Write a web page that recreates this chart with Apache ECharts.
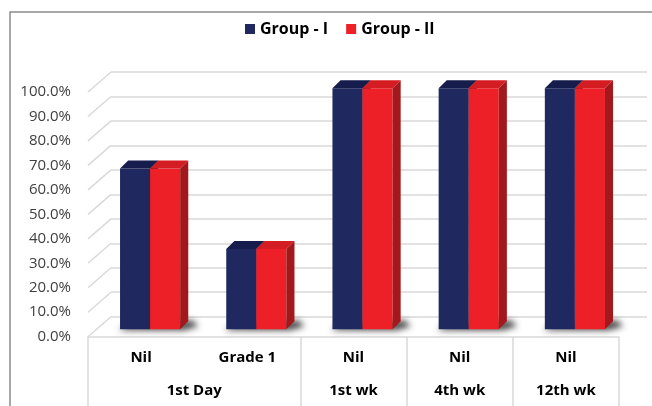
<!DOCTYPE html>
<html>
<head>
<meta charset="utf-8">
<style>
  html, body { margin: 0; padding: 0; background: #fff; }
  #chart { width: 652px; height: 406px; }
</style>
<script src="https://cdn.jsdelivr.net/npm/echarts@6/dist/echarts.min.js"></script>
</head>
<body>
<div id="chart"></div>
<script>
// Outcome categories per follow-up visit
const subCategories = ['Nil', 'Grade 1', 'Nil', 'Nil', 'Nil'];
const periods = ['1st Day', '1st wk', '4th wk', '12th wk'];
const periodSpans = [2, 1, 1, 1];

// Percentage of patients in each group
const groupI = [66.7, 33.3, 100, 100, 100];
const groupII = [66.7, 33.3, 100, 100, 100];

// Value-axis ticks
const yTickValues = [0, 10, 20, 30, 40, 50, 60, 70, 80, 90, 100];

const FONT = "'Open Sans', 'Liberation Sans', sans-serif";
const GRID_COLOR = '#d9d9d9';

// Oblique "3D" box layout: front plane, back wall and the plane the bars stand in
const FRONT = { left: 88, top: 92, width: 531, height: 244.7 };
const DEPTH = { dx: 23, dy: -20 };
const BACK = { left: FRONT.left + DEPTH.dx, top: FRONT.top + DEPTH.dy, width: 536, height: FRONT.height };
const BARS = { left: 97, top: 88.3, width: 531, height: 241 };
const BAR_FRACTION = 0.283;   // width of one bar relative to a category band
const BAR_DEPTH = 0.27;       // depth of a bar relative to its width
const SHADOW_SHIFT = 2000;    // shadow shapes are drawn off-canvas; only their blur is cast back

const COLORS = {
  'Group - I': { front: '#1f285f', top: '#161c4c', side: '#10153b' },
  'Group - II': { front: '#ee2027', top: '#d41d23', side: '#a2181d' }
};

// Period boundaries and centres on a 0..N scale for the lower header row
const boundaries = [0];
periodSpans.forEach(s => boundaries.push(boundaries[boundaries.length - 1] + s));
const centres = periods.map((p, i) => (boundaries[i] + boundaries[i + 1]) / 2);

function barRenderer(seriesName, side) {
  const c = COLORS[seriesName];
  return function (params, api) {
    const idx = api.value(0);
    const topPt = api.coord([idx, api.value(1)]);
    const basePt = api.coord([idx, 0]);
    const band = api.size([1, 0])[0];
    const w = band * BAR_FRACTION;
    const d = w * BAR_DEPTH;
    const x0 = side === 0 ? topPt[0] - w : topPt[0];
    const x1 = x0 + w;
    const yt = topPt[1], yb = basePt[1];
    return {
      type: 'group',
      children: [
        { type: 'rect', shape: { x: x0, y: yt, width: w, height: yb - yt },
          style: { fill: c.front } },
        { type: 'polygon', shape: { points: [[x0, yt], [x1, yt], [x1 + d, yt - d], [x0 + d, yt - d]] },
          style: { fill: c.top } },
        { type: 'polygon', shape: { points: [[x1, yt], [x1 + d, yt - d], [x1 + d, yb - d], [x1, yb]] },
          style: { fill: c.side } }
      ]
    };
  };
}

const chart = echarts.init(document.getElementById('chart'), null, { renderer: 'canvas' });

chart.setOption({
  animation: false,
  backgroundColor: '#ffffff',
  graphic: [{
    type: 'rect', silent: true, z: -10,
    shape: { x: 10, y: 12, width: 700, height: 500 },
    style: { fill: 'none', stroke: '#8c8c8c', lineWidth: 1.5 }
  }],
  legend: {
    data: ['Group - I', 'Group - II'],
    left: 245, top: 21, padding: 0,
    icon: 'rect', itemWidth: 10, itemHeight: 10, itemGap: 18,
    textStyle: { fontFamily: FONT, fontWeight: 'bold', fontSize: 16, color: '#000' },
    selectedMode: false
  },
  grid: [
    { left: FRONT.left, top: FRONT.top, width: FRONT.width, height: FRONT.height },
    { left: BACK.left, top: BACK.top, width: BACK.width, height: BACK.height },
    { left: BARS.left, top: BARS.top, width: BARS.width, height: BARS.height }
  ],
  xAxis: [
    { gridIndex: 0, type: 'category', position: 'bottom', data: subCategories,
      axisLine: { show: true, lineStyle: { color: GRID_COLOR, width: 1.5 } },
      axisTick: { show: false },
      axisLabel: { interval: 0, margin: 14, fontFamily: FONT, fontWeight: 'bold', fontSize: 15, color: '#000' } },
    { gridIndex: 0, type: 'value', position: 'bottom', min: 0, max: boundaries[boundaries.length - 1],
      axisLine: { show: false },
      splitLine: { show: false },
      axisTick: { show: true, customValues: boundaries, length: 80, inside: false,
        lineStyle: { color: GRID_COLOR, width: 1.5 } },
      axisLabel: { customValues: centres, margin: 47,
        formatter: v => { const i = centres.indexOf(v); return i >= 0 ? periods[i] : ''; },
        fontFamily: FONT, fontWeight: 'bold', fontSize: 15, color: '#000' } },
    { gridIndex: 1, type: 'value', show: false },
    { gridIndex: 2, type: 'category', data: subCategories, show: false }
  ],
  yAxis: [
    { gridIndex: 0, type: 'value', min: 0, max: 100, interval: 10,
      axisLine: { show: false }, axisTick: { show: false }, splitLine: { show: false },
      axisLabel: { margin: 17, formatter: v => v.toFixed(1) + '%',
        fontFamily: FONT, fontSize: 15, color: '#404040' } },
    { gridIndex: 1, type: 'value', min: 0, max: 100, interval: 10,
      axisLine: { show: false }, axisTick: { show: false }, axisLabel: { show: false },
      splitLine: { show: true, lineStyle: { color: GRID_COLOR, width: 1.5 } } },
    { gridIndex: 2, type: 'value', min: 0, max: 100, show: false }
  ],
  series: [
    {
      // side-wall grid lines, running from the front plane back to the wall
      name: 'wall', type: 'custom', xAxisIndex: 0, yAxisIndex: 0, silent: true, z: 1,
      data: yTickValues.map(v => [0, v]),
      encode: { x: 0, y: 1 },
      renderItem: (params, api) => {
        const p = api.coord([0, api.value(1)]);
        const xl = p[0] - api.size([1, 0])[0] / 2;
        return { type: 'line',
          shape: { x1: xl, y1: p[1], x2: xl + DEPTH.dx, y2: p[1] + DEPTH.dy },
          style: { stroke: GRID_COLOR, lineWidth: 1.5 } };
      }
    },
    {
      // soft floor shadow beneath each pair of bars
      name: 'shadow', type: 'custom', xAxisIndex: 3, yAxisIndex: 2, silent: true, z: 2,
      data: subCategories.map((c, i) => [i, 0]),
      encode: { x: 0, y: 1 },
      renderItem: (params, api) => {
        const p = api.coord([api.value(0), 0]);
        const w = api.size([1, 0])[0] * BAR_FRACTION;
        const d = w * BAR_DEPTH;
        const S = SHADOW_SHIFT;
        return { type: 'polygon',
          shape: { points: [[p[0] - w - 1 - S, p[1] + 1], [p[0] + w + 4 - S, p[1] + 1],
                            [p[0] + w + d + 10 - S, p[1] - 3], [p[0] + w + d + 4 - S, p[1] - d - 1],
                            [p[0] - w + 6 - S, p[1] - 4]] },
          style: { fill: '#000', shadowBlur: 6, shadowOffsetX: S, shadowOffsetY: 0,
                   shadowColor: 'rgba(40,40,40,0.85)' } };
      }
    },
    {
      name: 'Group - I', type: 'custom', xAxisIndex: 3, yAxisIndex: 2, z: 3,
      itemStyle: { color: COLORS['Group - I'].front },
      data: groupI.map((v, i) => [i, v]),
      encode: { x: 0, y: 1 },
      renderItem: barRenderer('Group - I', 0)
    },
    {
      name: 'Group - II', type: 'custom', xAxisIndex: 3, yAxisIndex: 2, z: 4,
      itemStyle: { color: COLORS['Group - II'].front },
      data: groupII.map((v, i) => [i, v]),
      encode: { x: 0, y: 1 },
      renderItem: barRenderer('Group - II', 1)
    }
  ]
});
</script>
</body>
</html>
